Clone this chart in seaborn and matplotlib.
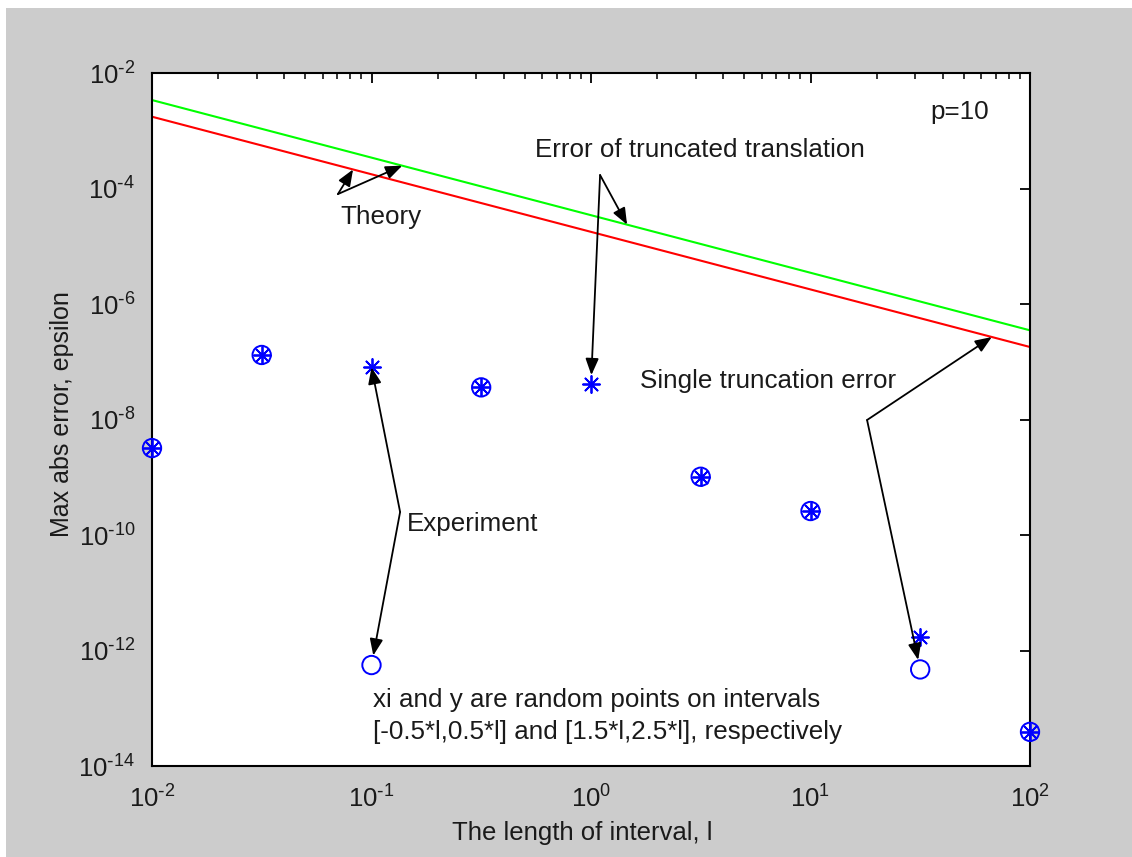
import numpy as np
import matplotlib
matplotlib.use("Agg")
import matplotlib.pyplot as plt
import seaborn as sns
from matplotlib.patches import Rectangle
from matplotlib.ticker import FixedLocator, LogLocator, FuncFormatter, NullLocator, NullFormatter

# Interval lengths l
lengths = [0.01, 0.0316, 0.1, 0.316, 1.0, 3.16, 10.0, 31.6, 100.0]
# Measured max abs error, first random set (asterisks)
err_star = [3.2e-9, 1.31e-7, 8.0e-8, 3.6e-8, 4.1e-8, 1.02e-9, 2.6e-10, 1.74e-12, 3.9e-14]
# Measured max abs error, second random set (circles)
err_circle = [3.2e-9, 1.31e-7, 5.6e-13, 3.6e-8, np.nan, 1.02e-9, 2.6e-10, 4.7e-13, 3.9e-14]

# Theoretical bounds (straight lines on log-log axes)
theory_l = [0.01, 100.0]
theory_translation = [3.4e-3, 3.5e-7]   # error of truncated translation
theory_single = [1.75e-3, 1.8e-7]       # single truncation error

x_ticks = [1e-2, 1e-1, 1e0, 1e1, 1e2]
y_ticks = [1e-14, 1e-12, 1e-10, 1e-8, 1e-6, 1e-4, 1e-2]

sns.set_style("white")
plt.rcParams["font.family"] = ["Liberation Sans", "DejaVu Sans"]
plt.rcParams["mathtext.default"] = "regular"
plt.rcParams["axes.unicode_minus"] = False

W, H = 1132, 857
fig = plt.figure(figsize=(W / 100, H / 100), dpi=100, facecolor="#cccccc")
fig.patches.append(Rectangle((0, 1 - 8 / H), 1, 8 / H, transform=fig.transFigure,
                             facecolor="white", edgecolor="none", zorder=0))
fig.patches.append(Rectangle((0, 0), 6 / W, 1, transform=fig.transFigure,
                             facecolor="white", edgecolor="none", zorder=0))

ax = fig.add_axes([152 / W, 1 - 766 / H, 878 / W, 693 / H])
ax.set_facecolor("white")
ax.set_xscale("log")
ax.set_yscale("log")

sns.lineplot(x=theory_l, y=theory_translation, color="#00ff00", lw=1.5, ax=ax)
sns.lineplot(x=theory_l, y=theory_single, color="#ff0000", lw=1.5, ax=ax)

sns.scatterplot(x=lengths, y=err_star, marker=(8, 2, 0), s=150, color="#0000ff",
                linewidth=1.3, ax=ax, zorder=4, clip_on=False)
sns.scatterplot(x=lengths, y=err_circle, marker="o", s=175, color="#0000ff",
                facecolor="none", edgecolor="#0000ff", linewidth=1.4, ax=ax,
                zorder=4, clip_on=False)

ax.set_xlim(1e-2, 1e2)
ax.set_ylim(1e-14, 1e-2)


def power_label(v, pos):
    e = int(round(np.log10(v)))
    sup = (r"\text{-}%d" % -e) if e < 0 else "%d" % e
    return r"$\mathdefault{10^{%s}}$" % sup


ax.xaxis.set_major_locator(FixedLocator(x_ticks))
ax.xaxis.set_minor_locator(LogLocator(base=10, subs=np.arange(2, 10), numticks=20))
ax.xaxis.set_minor_formatter(NullFormatter())
ax.xaxis.set_major_formatter(FuncFormatter(power_label))
ax.yaxis.set_major_locator(FixedLocator(y_ticks))
ax.yaxis.set_minor_locator(NullLocator())
ax.yaxis.set_major_formatter(FuncFormatter(power_label))

for s in ax.spines.values():
    s.set_visible(True)
    s.set_linewidth(1.5)
    s.set_color("black")

ax.tick_params(which="both", direction="in", top=True, right=True, color="black")
ax.tick_params(which="major", length=7.5, width=1.3, labelsize=18.5, labelcolor="#1a1a1a")
ax.tick_params(axis="x", which="major", pad=14)
ax.tick_params(axis="y", which="major", pad=12)
ax.tick_params(which="minor", length=4.5, width=1.1)

ax.set_xlabel("The length of interval, l", fontsize=18.5, color="#1a1a1a")
ax.set_ylabel("Max abs error, epsilon", fontsize=18, color="#1a1a1a")
ax.xaxis.set_label_coords(0.4897, -0.0794)
ax.yaxis.set_label_coords(-0.089, 0.508)


def on_line(line_y, xv):
    """Point on a theory line (linear in log-log) at abscissa xv."""
    lx = np.log10(theory_l)
    ly = np.log10(line_y)
    return xv, 10 ** np.interp(np.log10(xv), lx, ly)


def arrow(tip, origin, shrink=0):
    ax.annotate("", xy=tip, xytext=origin,
                arrowprops=dict(arrowstyle="-|>,head_length=0.5,head_width=0.2",
                                color="black", lw=1.3, mutation_scale=20,
                                shrinkA=0, shrinkB=shrink),
                zorder=5)


txt = dict(fontsize=18.7, color="#1a1a1a", ha="left", va="center")

# Theory
theory_origin = (0.0703, 8.0e-5)
arrow(on_line(theory_single, 0.0824), theory_origin)
arrow(on_line(theory_translation, 0.138), theory_origin)
ax.text(0.072, 3.2e-5, "Theory", **txt)

# Error of truncated translation
trans_origin = (1.1, 1.71e-4)
arrow(on_line(theory_translation, 1.46), trans_origin)
arrow((lengths[4], err_star[4]), trans_origin, shrink=6.5)
ax.text(0.556, 4.6e-4, "Error of truncated translation", **txt)

# Experiment
exp_origin = (0.135, 2.5e-10)
arrow((lengths[2], err_star[2]), exp_origin, shrink=0)
arrow((lengths[2], err_circle[2]), exp_origin, shrink=7)
ax.text(0.145, 1.55e-10, "Experiment", **txt)

# Single truncation error
single_origin = (18.1, 9.8e-9)
arrow(on_line(theory_single, 67.0), single_origin)
arrow((lengths[7], err_circle[7]), single_origin, shrink=7)
ax.text(1.67, 4.6e-8, "Single truncation error", **txt)

ax.text(35, 2.1e-3, "p=10", **txt)
ax.text(0.1016, 1.39e-13, "xi and y are random points on intervals", **txt)
ax.text(0.1016, 3.9e-14, "[-0.5*l,0.5*l] and [1.5*l,2.5*l], respectively", **txt)

fig.savefig("out.png", dpi=100, facecolor=fig.get_facecolor())
